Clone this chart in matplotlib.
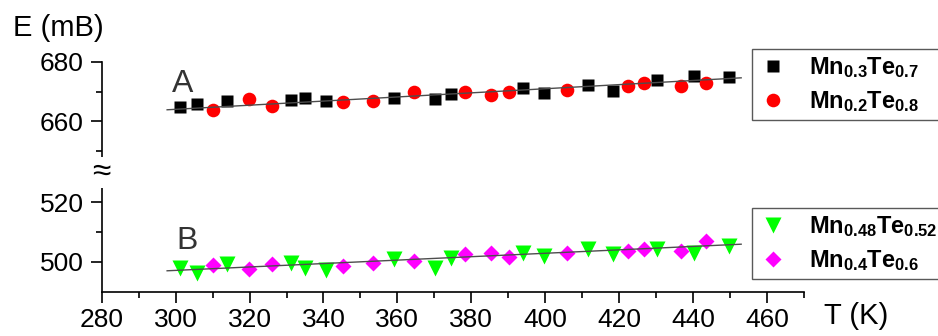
import numpy as np
import matplotlib
matplotlib.use("Agg")
import matplotlib.pyplot as plt
from matplotlib.ticker import FixedLocator

plt.rcParams["font.family"] = ["Liberation Sans", "DejaVu Sans"]
plt.rcParams["mathtext.fontset"] = "custom"
plt.rcParams["mathtext.rm"] = "Liberation Sans"
plt.rcParams["mathtext.bf"] = "Liberation Sans:bold"

# ======================
# DATA
# ======================
T_sq = [301.2, 305.7, 314.0, 331.1, 335.1, 340.8, 359.1, 370.1, 374.6,
        393.9, 399.6, 411.5, 418.3, 430.2, 440.2, 449.6]
E_mn03 = [664.7, 665.8, 666.7, 667.2, 668.0, 667.0, 668.0, 667.5, 669.2,
          671.1, 669.5, 672.2, 670.3, 673.9, 675.2, 675.0]
E_mn048 = [497.8, 496.1, 499.2, 499.5, 497.8, 497.2, 501.1, 498.1, 501.3,
           502.8, 501.9, 504.2, 502.5, 504.3, 503.0, 505.2]

T_ci = [310.0, 319.8, 326.1, 345.3, 353.4, 364.4, 378.2,
        385.4, 390.2, 405.8, 422.5, 426.6, 436.8, 443.5]
E_mn02 = [663.9, 667.5, 665.3, 666.5, 666.7, 669.7, 670.0,
          668.9, 670.0, 670.6, 672.0, 673.0, 671.7, 672.8]
E_mn04 = [499.1, 497.6, 499.2, 498.7, 499.5, 500.3, 502.6,
          503.0, 501.5, 503.0, 503.7, 504.2, 503.7, 506.9]

fit_T = [297.7, 453.0]
fit_A = [663.9, 674.6]
fit_B = [497.0, 505.9]

labels = [r"$\mathbf{Mn_{0.3}Te_{0.7}}$", r"$\mathbf{Mn_{0.2}Te_{0.8}}$",
          r"$\mathbf{Mn_{0.48}Te_{0.52}}$", r"$\mathbf{Mn_{0.4}Te_{0.6}}$"]

# ======================
# FIGURE
# ======================
W, H = 938, 336
fig = plt.figure(figsize=(W / 100, H / 100), dpi=100)

x0 = 101.7 / W
x1 = 804 / W
y_bot = 1 - 291.7 / H
y_brk = 1 - 172.2 / H
y_top = 1 - 61.7 / H

ax_t = fig.add_axes([x0, y_brk, x1 - x0, y_top - y_brk])
ax_b = fig.add_axes([x0, y_bot, x1 - x0, y_brk - y_bot])

lw_sp = 1.2
for ax in (ax_t, ax_b):
    ax.set_xlim(280, 470)
    for s in ("top", "right"):
        ax.spines[s].set_visible(False)
    ax.spines["left"].set_linewidth(lw_sp)
    ax.spines["bottom"].set_linewidth(lw_sp)
    ax.tick_params(which="major", length=8, width=lw_sp, labelsize=19, pad=5)
    ax.tick_params(which="minor", length=4, width=lw_sp)
    ax.patch.set_alpha(0)

ax_t.spines["bottom"].set_visible(False)
ax_t.tick_params(axis="x", which="both", bottom=False, labelbottom=False)
ax_t.set_ylim(643, 680)
ax_t.yaxis.set_major_locator(FixedLocator([660, 680]))
ax_t.yaxis.set_minor_locator(FixedLocator([650, 670]))

ax_b.set_ylim(490, 530)
ax_b.yaxis.set_major_locator(FixedLocator([500, 520]))
ax_b.yaxis.set_minor_locator(FixedLocator([510]))
ax_b.xaxis.set_major_locator(FixedLocator(np.arange(280, 461, 20)))
ax_b.xaxis.set_minor_locator(FixedLocator(np.arange(290, 471, 20)))
ax_b.tick_params(axis="x", which="major", pad=4)

# series A
h1, = ax_t.plot(T_sq, E_mn03, ls="none", marker="s", ms=8.5, color="black",
                mec="none", label=labels[0], zorder=2)
h2, = ax_t.plot(T_ci, E_mn02, ls="none", marker="o", ms=9.8, color="#ff0000",
                mec="none", label=labels[1], zorder=2)
ax_t.plot(fit_T, fit_A, color="0.3", lw=1.0, zorder=3)

# series B
h3, = ax_b.plot(T_sq, E_mn048, ls="none", marker="v", ms=11, color="#00ff00",
                mec="none", label=labels[2], zorder=2)
h4, = ax_b.plot(T_ci, E_mn04, ls="none", marker="D", ms=8, color="#ff00ff",
                mec="none", label=labels[3], zorder=2)
ax_b.plot(fit_T, fit_B, color="0.3", lw=1.0, zorder=3)

ax_t.text(302, 669.9, "A", fontsize=23, color="#333333", ha="center", va="baseline")
ax_b.text(303, 504.2, "B", fontsize=23, color="#333333", ha="center", va="baseline")

# legends
leg_kw = dict(loc="upper left", mode="expand", borderaxespad=0, fontsize=17,
              handlelength=1.3, handletextpad=0.85, labelspacing=0.4,
              borderpad=0.25, fancybox=False, framealpha=1, edgecolor="0.35")
lg1 = fig.legend(handles=[h1, h2], bbox_to_anchor=(752 / W, 1 - 49 / H, 0.25, 0), **leg_kw)
lg2 = fig.legend(handles=[h3, h4], bbox_to_anchor=(752 / W, 1 - 208 / H, 0.25, 0), **leg_kw)
for lg in (lg1, lg2):
    lg.get_frame().set_linewidth(1.0)

# axis break mark
fig.text(x0, y_brk, "\u2248", fontsize=24, ha="center", va="center",
         bbox=dict(boxstyle="square,pad=0.0", fc="white", ec="none"))

# axis titles
fig.text(13 / W, 1 - 28 / H, "E (mB)", fontsize=21, ha="left", va="center")
fig.text(824 / W, 1 - 316 / H, "T (K)", fontsize=21, ha="left", va="center")

fig.savefig("out.png", dpi=100)
